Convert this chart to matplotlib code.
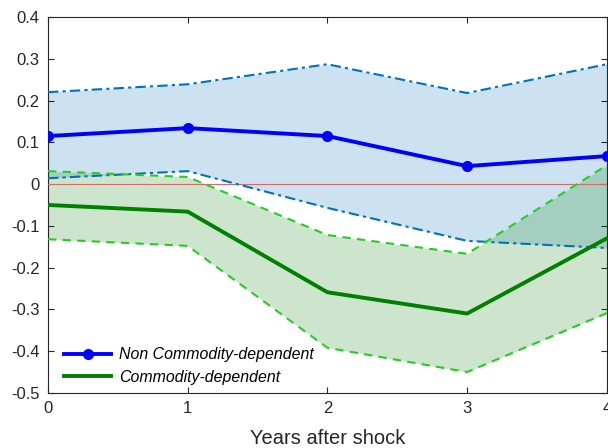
import numpy as np
import matplotlib.pyplot as plt

plt.rcParams['font.family'] = ['Liberation Sans', 'DejaVu Sans']

years = [0, 1, 2, 3, 4]

# non commodity-dependent: point estimate and band
nc_mean = [0.115, 0.134, 0.115, 0.043, 0.067]
nc_upper = [0.220, 0.239, 0.287, 0.218, 0.287]
nc_lower = [0.014, 0.031, -0.057, -0.136, -0.153]

# commodity-dependent: point estimate and band
cd_mean = [-0.050, -0.066, -0.259, -0.310, -0.130]
cd_upper = [0.031, 0.017, -0.122, -0.167, 0.045]
cd_lower = [-0.132, -0.148, -0.392, -0.450, -0.309]

fig = plt.figure(figsize=(6.08, 4.48), dpi=100)
ax = fig.add_axes([0.079, 0.123, 0.919, 0.839])

ax.fill_between(years, nc_lower, nc_upper, color=(0.80, 0.886, 0.941), lw=0, zorder=1)
ax.fill_between(years, cd_lower, cd_upper, color=(0, 0.5, 0), alpha=0.2, lw=0, zorder=2)

ax.axhline(0, color=(0.82, 0.42, 0.42), lw=0.8, zorder=3)

ax.plot(years, nc_upper, color=(0, 0.447, 0.741), ls=(0, (5, 2, 1.5, 2)), lw=1.5, zorder=4)
ax.plot(years, nc_lower, color=(0, 0.447, 0.741), ls=(0, (5, 2, 1.5, 2)), lw=1.5, zorder=4)
ax.plot(years, cd_upper, color=(0.15, 0.8, 0.15), ls=(0, (4, 3)), lw=1.5, zorder=4)
ax.plot(years, cd_lower, color=(0.15, 0.8, 0.15), ls=(0, (4, 3)), lw=1.5, zorder=4)

ax.plot(years, nc_mean, color=(0, 0, 1), lw=2.8, marker='o', ms=7,
        label='Non Commodity-dependent', zorder=5)
ax.plot(years, cd_mean, color=(0, 0.5, 0), lw=2.8,
        label='Commodity-dependent', zorder=5)

ax.set_xlim(0, 4)
ax.set_ylim(-0.5, 0.4)
ax.set_xticks(years)
ax.set_yticks(np.arange(-0.5, 0.41, 0.1))
ax.set_yticklabels(['-0.5', '-0.4', '-0.3', '-0.2', '-0.1', '0', '0.1', '0.2', '0.3', '0.4'])
ax.tick_params(direction='in', top=True, right=True, labelsize=12,
               colors=(0.15, 0.15, 0.15), length=4, width=0.8, pad=6)
for s in ax.spines.values():
    s.set_color((0.15, 0.15, 0.15))
    s.set_linewidth(0.8)

ax.set_xlabel('Years after shock', fontsize=14.5, color=(0.15, 0.15, 0.15), labelpad=9)

leg = ax.legend(loc='lower left', frameon=False,
                prop={'style': 'italic', 'size': 11.4},
                handlelength=3.0, handletextpad=0.5, borderaxespad=0.1,
                labelspacing=0.5, bbox_to_anchor=(0.014, 0.0))

fig.savefig('out.png', dpi=100)
